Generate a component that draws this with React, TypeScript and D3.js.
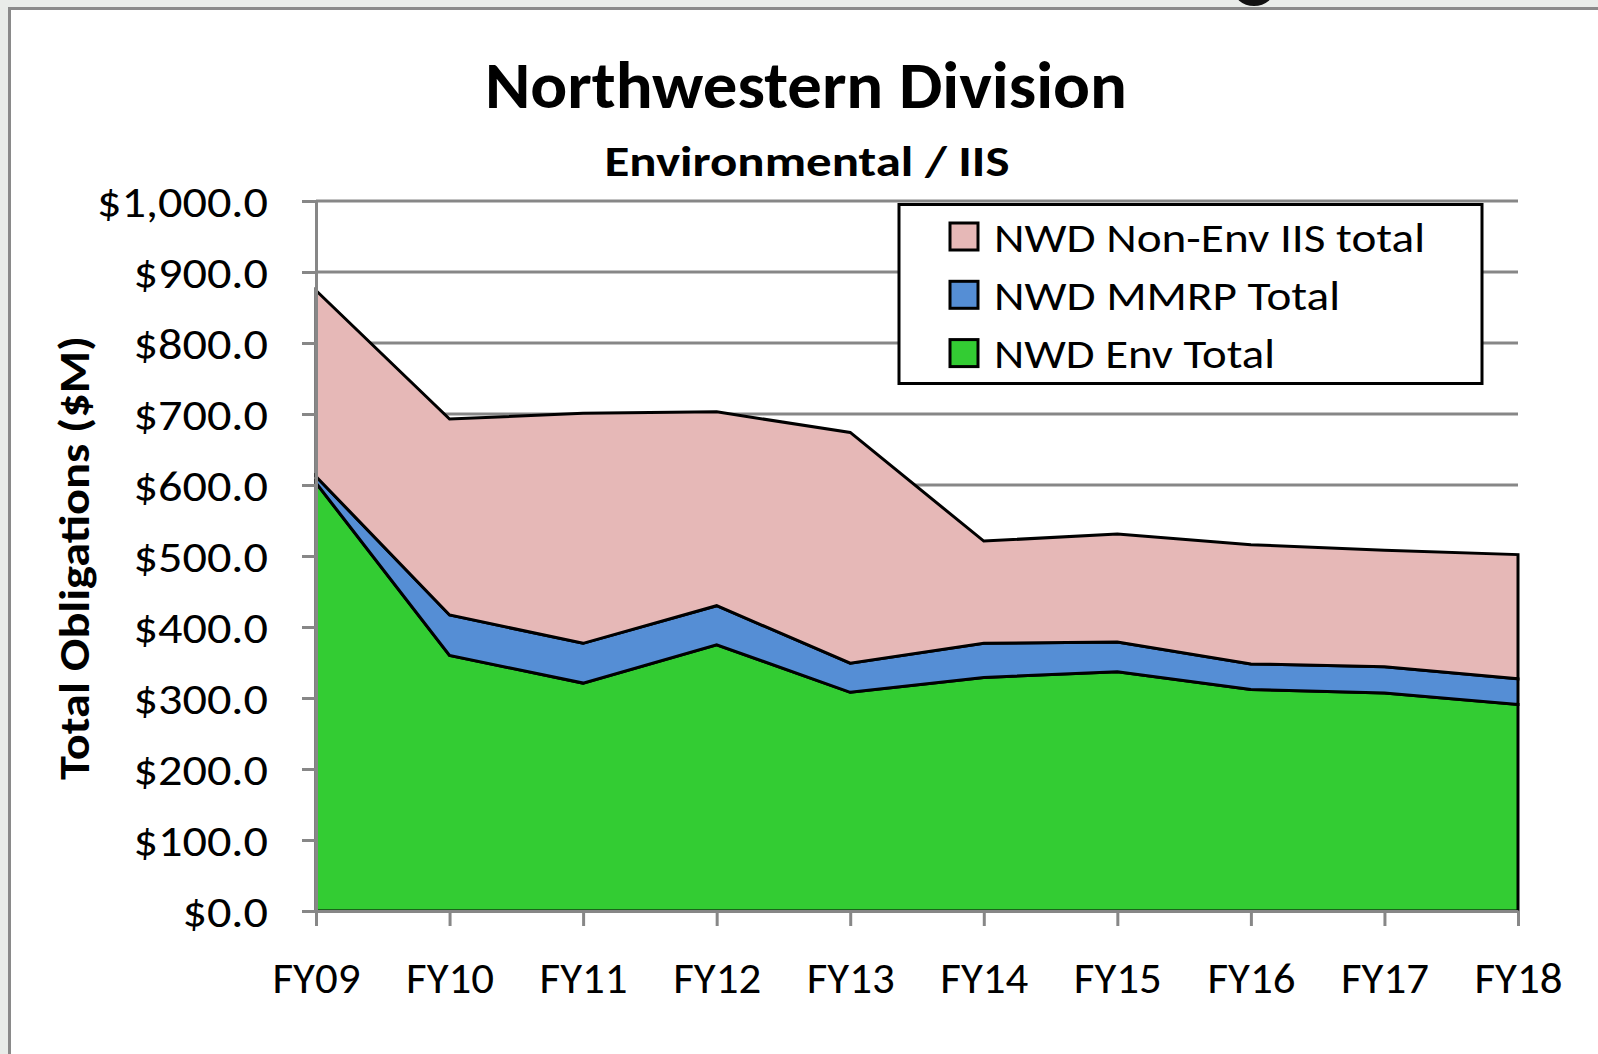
import React, { useEffect, useRef } from "react";
import * as d3 from "d3";

// fiscal years on the x axis
const years = ["FY09", "FY10", "FY11", "FY12", "FY13", "FY14", "FY15", "FY16", "FY17", "FY18"];

// stacked series, $M
const envTotal = [603, 360, 321, 375, 308, 329, 337, 312, 307, 291];
const mmrpTotal = [9, 57, 56, 55, 41, 48, 42, 36, 37, 36];
const nonEnvIisTotal = [262, 276, 324, 273, 325, 144, 152, 168, 164, 175];

const yTicks = [0, 100, 200, 300, 400, 500, 600, 700, 800, 900, 1000];

const seriesKeys = ["env", "mmrp", "nonEnv"];
const seriesColors = ["#33CC33", "#558ED5", "#E6B8B7"];
// legend is listed top to bottom
const legendLabels = ["NWD Non-Env IIS total", "NWD MMRP Total", "NWD Env Total"];
const legendColors = ["#E6B8B7", "#558ED5", "#33CC33"];
const legendWidths = [431, 346, 281];

const FONT = "Carlito, Lato, 'Open Sans', sans-serif";

// stretch a text selection horizontally (Calibri-like proportions)
function stretch(sel: d3.Selection<any, any, any, any>, k: number) {
  sel.each(function () {
    const node = this as SVGTextElement;
    const w = node.getComputedTextLength();
    d3.select(node).attr("textLength", w * k).attr("lengthAdjust", "spacingAndGlyphs");
  });
}

export default function App() {
  const svgRef = useRef<SVGSVGElement>(null);

  useEffect(() => {
    if (!svgRef.current) return;
    const width = 1598;
    const height = 1054;

    const svg = d3.select(svgRef.current);
    svg.selectAll("*").remove();
    svg.attr("width", width).attr("height", height);

    // page background and chart frame
    svg.append("rect").attr("width", width).attr("height", height).attr("fill", "#e9ece9");
    svg
      .append("ellipse")
      .attr("cx", 1254)
      .attr("cy", -12)
      .attr("rx", 21)
      .attr("ry", 18)
      .attr("fill", "#111");
    svg
      .append("rect")
      .attr("x", 9.5)
      .attr("y", 8.5)
      .attr("width", width)
      .attr("height", height)
      .attr("fill", "#ffffff")
      .attr("stroke", "#8a8a8a")
      .attr("stroke-width", 3);

    const left = 316;
    const right = 1518;
    const top = 201;
    const bottom = 911;

    const x = d3.scalePoint<string>().domain(years).range([left, right]);
    const y = d3.scaleLinear().domain([0, 1000]).range([bottom, top]);

    // gridlines
    svg
      .append("g")
      .selectAll("line")
      .data(yTicks.filter((d) => d > 0))
      .enter()
      .append("line")
      .attr("x1", left)
      .attr("x2", right)
      .attr("y1", (d) => y(d))
      .attr("y2", (d) => y(d))
      .attr("stroke", "#878787")
      .attr("stroke-width", 3);

    // stacked areas
    const rows = years.map((yr, i) => ({
      year: yr,
      env: envTotal[i],
      mmrp: mmrpTotal[i],
      nonEnv: nonEnvIisTotal[i],
    }));
    const layers = d3.stack<any>().keys(seriesKeys)(rows);

    const area = d3
      .area<any>()
      .x((d) => x(d.data.year)!)
      .y0((d) => y(d[0]))
      .y1((d) => y(d[1]));

    svg
      .append("g")
      .selectAll("path")
      .data(layers)
      .enter()
      .append("path")
      .attr("d", (d) => area(d as any)!)
      .attr("fill", (_, i) => seriesColors[i])
      .attr("stroke", "#000")
      .attr("stroke-width", 3)
      .attr("stroke-linejoin", "miter");

    // y axis
    const yAxis = d3
      .axisLeft(y)
      .tickValues(yTicks)
      .tickSize(14)
      .tickSizeOuter(0)
      .tickPadding(34)
      .tickFormat((d) => "$" + d3.format(",.1f")(d as number));

    const gy = svg.append("g").attr("transform", `translate(${left},0)`).call(yAxis);
    gy.select(".domain").attr("stroke", "#878787").attr("stroke-width", 3);
    gy.selectAll(".tick line").attr("stroke", "#878787").attr("stroke-width", 3);
    const yLabels = gy
      .selectAll(".tick text")
      .attr("fill", "#000")
      .style("font-family", FONT)
      .style("font-size", "43px")
      .attr("dy", "0.36em");
    const wMax = (gy.selectAll(".tick text").nodes().slice(-1)[0] as SVGTextElement).getComputedTextLength();
    stretch(yLabels as any, 171 / wMax);

    // x axis
    const xAxis = d3.axisBottom(x).tickSize(15).tickSizeOuter(0).tickPadding(36);
    const gx = svg.append("g").attr("transform", `translate(0,${bottom})`).call(xAxis);
    gx.select(".domain").attr("stroke", "#878787").attr("stroke-width", 3);
    gx.selectAll(".tick line").attr("stroke", "#878787").attr("stroke-width", 3);
    const xLabels = gx
      .selectAll(".tick text")
      .attr("fill", "#000")
      .style("font-family", FONT)
      .style("font-size", "43px");
    const wX = (gx.selectAll(".tick text").nodes().slice(-1)[0] as SVGTextElement).getComputedTextLength();
    stretch(xLabels as any, 88 / wX);

    // titles
    svg
      .append("text")
      .attr("x", 806)
      .attr("y", 108)
      .attr("text-anchor", "middle")
      .style("font-family", FONT)
      .style("font-weight", "bold")
      .style("font-size", "66px")
      .attr("textLength", 642)
      .attr("lengthAdjust", "spacingAndGlyphs")
      .text("Northwestern Division");

    svg
      .append("text")
      .attr("x", 807)
      .attr("y", 176)
      .attr("text-anchor", "middle")
      .style("font-family", FONT)
      .style("font-weight", "bold")
      .style("font-size", "43px")
      .attr("textLength", 405)
      .attr("lengthAdjust", "spacingAndGlyphs")
      .text("Environmental / IIS");

    svg
      .append("text")
      .attr("transform", "translate(89,558) rotate(-90)")
      .attr("text-anchor", "middle")
      .style("font-family", FONT)
      .style("font-weight", "bold")
      .style("font-size", "42px")
      .attr("textLength", 444)
      .attr("lengthAdjust", "spacingAndGlyphs")
      .text("Total Obligations  ($M)");

    // legend
    const legend = svg.append("g");
    legend
      .append("rect")
      .attr("x", 899)
      .attr("y", 204.5)
      .attr("width", 583)
      .attr("height", 179)
      .attr("fill", "#fff")
      .attr("stroke", "#000")
      .attr("stroke-width", 3);

    const items = legend
      .selectAll("g.item")
      .data(legendLabels)
      .enter()
      .append("g")
      .attr("class", "item")
      .attr("transform", (_, i) => `translate(0,${i * 58.3})`);

    items
      .append("rect")
      .attr("x", 950)
      .attr("y", 223)
      .attr("width", 28)
      .attr("height", 27)
      .attr("fill", (_, i) => legendColors[i])
      .attr("stroke", "#000")
      .attr("stroke-width", 3);

    items
      .append("text")
      .attr("x", 994)
      .attr("y", 251.5)
      .style("font-family", FONT)
      .style("font-size", "41px")
      .attr("fill", "#000")
      .attr("textLength", (_, i) => legendWidths[i])
      .attr("lengthAdjust", "spacingAndGlyphs")
      .text((d) => d);
  }, []);

  return (
    <div style={{ position: "absolute", left: 0, top: 0, width: 1598, height: 1054, overflow: "hidden" }}>
      <svg ref={svgRef} style={{ display: "block" }} />
    </div>
  );
}
